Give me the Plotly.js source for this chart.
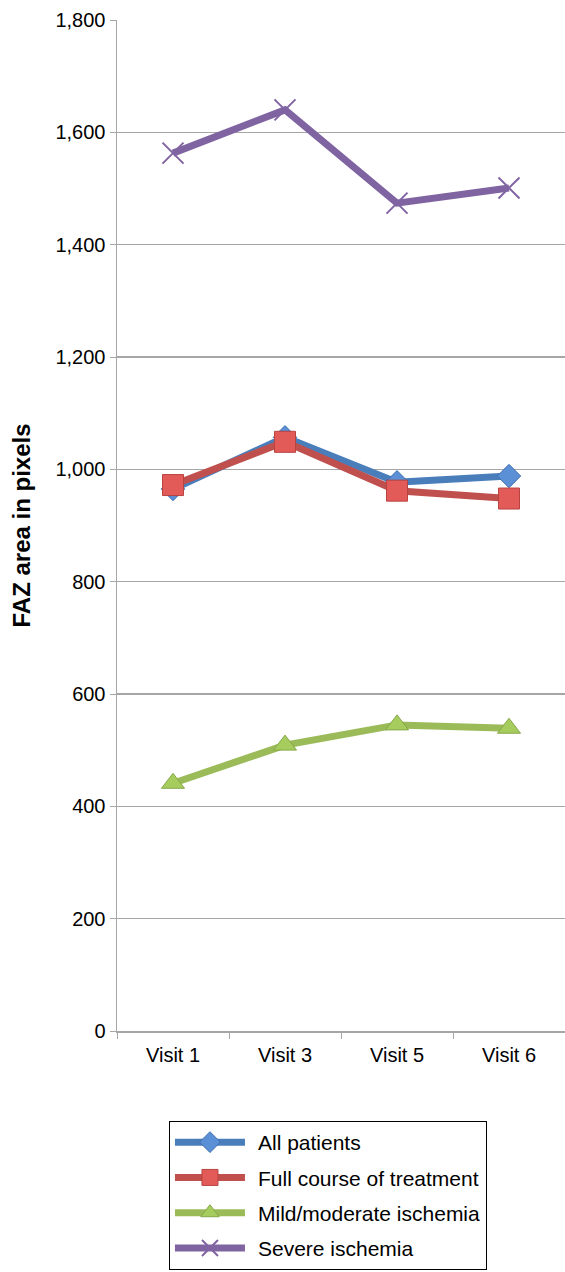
<!DOCTYPE html>
<html>
<head>
<meta charset="utf-8">
<script src="https://cdn.plot.ly/plotly-3.0.1.min.js"></script>
<style>
html,body{margin:0;padding:0;background:#fff;}
#chart{width:565px;height:1272px;}
</style>
</head>
<body>
<div id="chart"></div>
<script>
var visits = ["Visit 1", "Visit 3", "Visit 5", "Visit 6"];
var allPatients = [965, 1057, 977, 988];
var fullCourse = [972, 1049, 962, 948];
var mildModerate = [441, 509, 545, 539];
var severe = [1563, 1640, 1474, 1501];
var yTicks = [0, 200, 400, 600, 800, 1000, 1200, 1400, 1600, 1800];
var yTickText = ["0", "200", "400", "600", "800", "1,000", "1,200", "1,400", "1,600", "1,800"];

var traces = [
  {
    x: visits, y: allPatients, name: "All patients", type: "scatter", mode: "lines+markers", legendgroup: "g1",
    line: {color: "#4a7ebb", width: 7},
    marker: {symbol: "diamond", size: 18, color: "#5b8fd6", line: {color: "#3f6fae", width: 1}}
  },
  {
    x: visits, y: fullCourse, name: "Full course of treatment", type: "scatter", mode: "lines+markers", legendgroup: "g2",
    line: {color: "#c0504d", width: 7},
    marker: {symbol: "square", size: 21, color: "#e35b59", line: {color: "#b84340", width: 1}}
  },
  {
    x: visits, y: mildModerate, name: "Mild/moderate ischemia", type: "scatter", mode: "lines+markers", legendgroup: "g3",
    line: {color: "#9bbb59", width: 7},
    marker: {symbol: "triangle-up", size: 20, color: "#a6cc5e", line: {color: "#86a84a", width: 1}}
  },
  {
    x: visits, y: severe, name: "Severe ischemia", type: "scatter", mode: "lines+markers", legendgroup: "g4",
    line: {color: "#8064a2", width: 7},
    marker: {symbol: "x-thin", size: 21, color: "#8064a2", line: {color: "#8064a2", width: 2}}
  }
];

var layout = {
  width: 565, height: 1272,
  margin: {l: 117, r: 0, t: 20, b: 241},
  paper_bgcolor: "#ffffff", plot_bgcolor: "#ffffff",
  font: {family: "Liberation Sans, Arial, sans-serif", size: 20, color: "#000"},
  showlegend: true,
  legend: {
    x: 0.116, y: -0.089, xanchor: "left", yanchor: "top",
    bordercolor: "#000", borderwidth: 1, bgcolor: "#fff",
    font: {size: 21, color: "#000"},
    traceorder: "grouped", tracegroupgap: 5, itemwidth: 78
  },
  xaxis: {
    type: "category", range: [-0.5, 3.5],
    showline: true, linecolor: "#a6a6a6", linewidth: 1.5,
    ticks: "outside", tickson: "boundaries", ticklen: 6, tickcolor: "#a6a6a6",
    ticklabelstandoff: 5,
    showgrid: false, zeroline: false, fixedrange: true,
    tickfont: {size: 20}
  },
  yaxis: {
    range: [0, 1800], tickvals: yTicks, ticktext: yTickText,
    showline: true, linecolor: "#a6a6a6", linewidth: 1.5,
    ticks: "outside", ticklen: 6, tickcolor: "#a6a6a6",
    showgrid: true, gridcolor: "#a6a6a6", gridwidth: 1.2,
    zeroline: false, fixedrange: true,
    tickfont: {size: 20},
    title: {text: "<b>FAZ area in pixels</b>", font: {size: 24}, standoff: 18}
  }
};

function widenLegend() {
  var gd = document.getElementById("chart");
  gd.querySelectorAll(".legend .traces").forEach(function (tr) {
    tr.querySelectorAll(".legendlines path").forEach(function (p) {
      p.setAttribute("d", "M5,0h70");
    });
    tr.querySelectorAll(".legendpoints path.scatterpts").forEach(function (p) {
      p.setAttribute("transform", "translate(40,0)");
    });
  });
}

Plotly.newPlot("chart", traces, layout, {displayModeBar: false, staticPlot: true}).then(widenLegend);
</script>
</body>
</html>
